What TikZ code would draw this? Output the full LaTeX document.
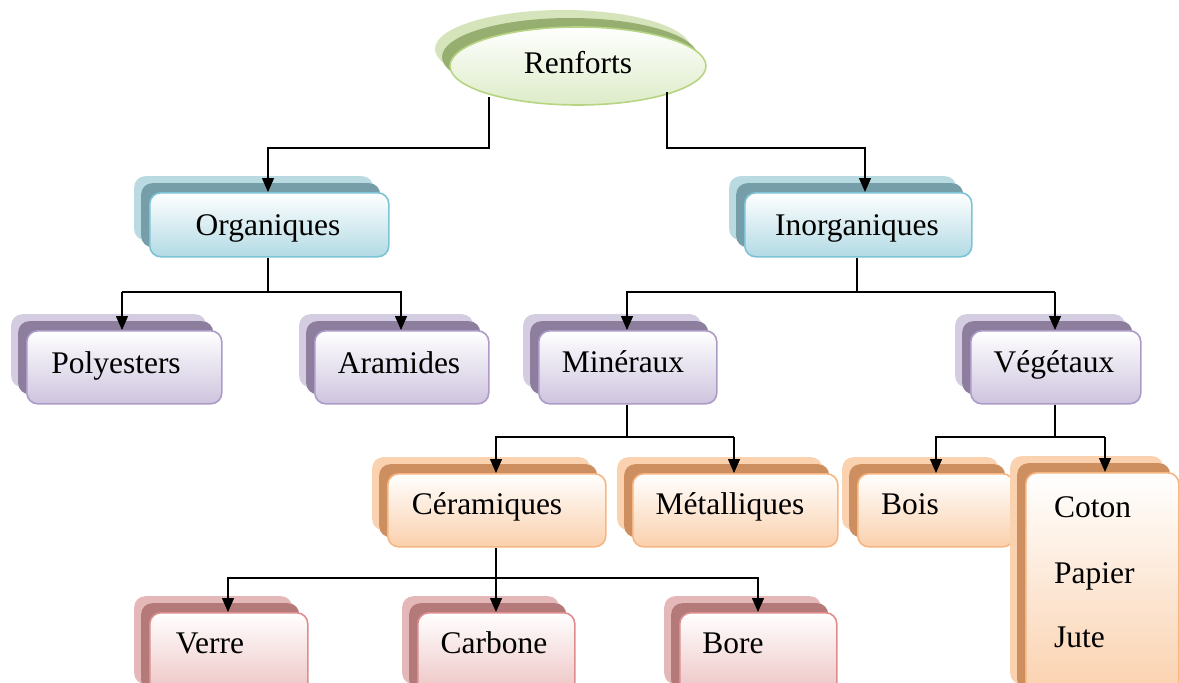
\documentclass[tikz,border=0pt]{standalone}
\usepackage{fontspec}
\setmainfont{Liberation Serif}
\usetikzlibrary{arrows.meta,shapes.geometric}
\definecolor{gB}{RGB}{183,212,130}\definecolor{gF}{RGB}{221,236,200}\definecolor{gL}{RGB}{214,228,188}\definecolor{gD}{RGB}{150,175,112}
\definecolor{bB}{RGB}{125,195,214}\definecolor{bF}{RGB}{178,218,228}\definecolor{bL}{RGB}{186,218,226}\definecolor{bD}{RGB}{118,158,168}
\definecolor{pB}{RGB}{172,155,200}\definecolor{pF}{RGB}{206,196,222}\definecolor{pL}{RGB}{212,204,224}\definecolor{pD}{RGB}{140,126,156}
\definecolor{oB}{RGB}{246,182,130}\definecolor{oF}{RGB}{250,208,172}\definecolor{oL}{RGB}{251,210,176}\definecolor{oD}{RGB}{205,142,96}
\definecolor{rB}{RGB}{222,140,140}\definecolor{rF}{RGB}{236,190,190}\definecolor{rL}{RGB}{228,184,184}\definecolor{rD}{RGB}{180,122,122}
\tikzset{
  layer/.style={draw=none, rounded corners=11, inner sep=0, fill=#1},
  front/.style 2 args={rounded corners=11, inner sep=0, draw=#1, line width=1.6, top color=white, bottom color=#2},
  lbl/.style={inner sep=0, anchor=base, font=\fontsize{31.5}{37}\selectfont},
  conn/.style={line width=1.4, black},
  arr/.style={conn, -{Triangle[length=14,width=12]}}
}
% \stackbox{name}{left}{top}{right}{bottom}{colour letter}
\newcommand\stackbox[6]{%
  \node[layer=#6L, minimum width=#4-#2, minimum height=#5-#3, anchor=north west] (#1-l) at (#2-15,#3-16) {};
  \node[layer=#6D, minimum width=#4-#2, minimum height=#5-#3, anchor=north west] (#1-d) at (#2-8,#3-9) {};
  \node[front={#6B}{#6F}, minimum width=#4-#2, minimum height=#5-#3, anchor=north west] (#1) at (#2,#3) {};
}
\begin{document}
\begin{tikzpicture}[x=1pt,y=-1pt]
\useasboundingbox (0,0) rectangle (1179,683);
\clip (0,0) rectangle (1179,683);
% root ellipse
\node[ellipse, draw=none, fill=gL, minimum width=256, minimum height=78, inner sep=0] (root-l) at (563,49) {};
\node[ellipse, draw=none, fill=gD, minimum width=256, minimum height=78, inner sep=0] (root-d) at (570,57) {};
\node[ellipse, draw=gB, line width=1.6, top color=white, bottom color=gF, minimum width=256, minimum height=78, inner sep=0] (root) at (578,66) {};
\node[lbl] (t-root) at (578,73) {Renforts};

\stackbox{org}{149}{192}{388}{256}{b}
\stackbox{ino}{744}{192}{971}{256}{b}
\stackbox{pol}{26}{330}{221}{403}{p}
\stackbox{ara}{314}{330}{488}{403}{p}
\stackbox{min}{538}{330}{716}{403}{p}
\stackbox{veg}{970}{330}{1140}{403}{p}
\stackbox{cer}{387}{473}{605}{546}{o}
\stackbox{met}{632}{473}{837}{546}{o}
\stackbox{boi}{857}{473}{1013}{546}{o}
\stackbox{cot}{1025}{472}{1178}{700}{o}
\stackbox{ver}{149}{612}{307}{700}{r}
\stackbox{car}{417}{612}{574}{700}{r}
\stackbox{bor}{679}{612}{836}{700}{r}

\node[lbl] (t-org) at (268,235) {Organiques};
\node[lbl] (t-ino) at (857,235) {Inorganiques};
\node[lbl] (t-pol) at (116,373) {Polyesters};
\node[lbl] (t-ara) at (399,373) {Aramides};
\node[lbl] (t-min) at (623,372) {Minéraux};
\node[lbl] (t-veg) at (1054,372) {Végétaux};
\node[lbl] (t-cer) at (487,514) {Céramiques};
\node[lbl] (t-met) at (730,514) {Métalliques};
\node[lbl] (t-boi) at (910,514) {Bois};
\node[lbl, anchor=base west] (t-cot) at (1054,517) {Coton};
\node[lbl, anchor=base west] (t-pap) at (1054,583) {Papier};
\node[lbl, anchor=base west] (t-jut) at (1054,647) {Jute};
\node[lbl] (t-ver) at (210,653) {Verre};
\node[lbl] (t-car) at (494,653) {Carbone};
\node[lbl] (t-bor) at (733,653) {Bore};

% connectors
\coordinate (r1) at (489,97);
\coordinate (r2) at (667,92);
\draw[arr] (r1) |- (268,148) -- (org.north -| 268,0);
\draw[arr] (r2) |- (865,148) -- (ino.north -| 865,0);

\draw[conn] (org.south -| 268,0) -- (268,292);
\draw[arr] (122,292) -- (pol.north -| 122,0);
\draw[arr] (122,292) -| (ara.north -| 401,0);

\draw[conn] (ino.south -| 857,0) -- (857,292);
\draw[arr] (1055,292) -| (min.north -| 627,0);
\draw[arr] (1055,292) -- (veg.north -| 1055,0);

\draw[conn] (min.south -| 627,0) -- (627,437);
\draw[arr] (734,437) -| (cer.north -| 496,0);
\draw[arr] (734,437) -- (met.north -| 734,0);

\draw[conn] (veg.south -| 1055,0) -- (1055,437);
\draw[arr] (1105,437) -| (boi.north -| 936,0);
\draw[arr] (1105,437) -- (cot.north -| 1105,0);

\draw[arr] (cer.south -| 496,0) -- (car.north -| 496,0);
\draw[arr] (496,578) -| (ver.north -| 228,0);
\draw[arr] (496,578) -| (bor.north -| 758,0);
\end{tikzpicture}
\end{document}
